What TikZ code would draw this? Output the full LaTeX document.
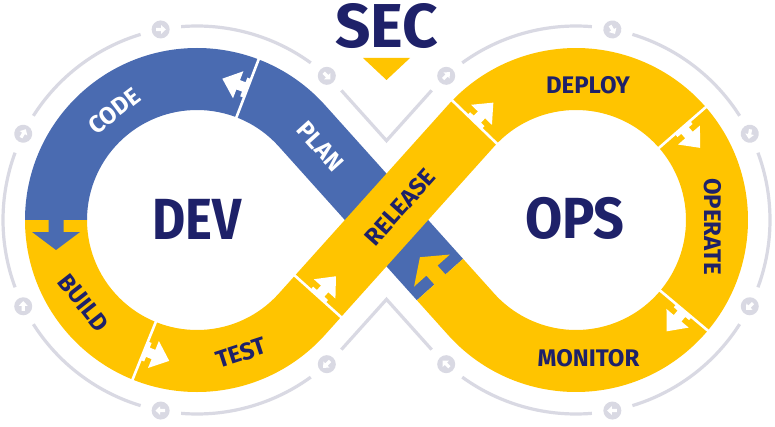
\documentclass[tikz,border=0pt]{standalone}
\usepackage{fontspec}
\setmainfont{Fira Sans}
\usepackage{graphicx}
\usetikzlibrary{calc}
\definecolor{dblue}{HTML}{4A6BB1}
\definecolor{dyel}{HTML}{FFC400}
\definecolor{navy}{HTML}{1E2169}
\definecolor{ringc}{HTML}{D9D9E3}
\begin{document}
\begin{tikzpicture}[x=1pt,y=1pt,
  lbl/.style={font=\fontsize{24}{24}\selectfont\bfseries, text=navy, inner sep=0pt},
  wlbl/.style={lbl, text=white},
  big/.style={font=\fontsize{58}{58}\selectfont\bfseries, text=navy, inner sep=0pt},
  divider/.style={white, line width=2.6pt},
  ringline/.style={ringc, line width=3.2pt},
  notcharrow/.pic={\fill (0,-10) -- (4,-10) -- (4,-5) -- (10,-5) -- (10,-14.5) -- (27,0) -- (10,14.5) -- (10,5) -- (4,5) -- (4,10) -- (0,10) -- cycle;},
  bigarrow/.pic={\fill (-1,-7.5) -- (12,-7.5) -- (12,-24) -- (30,0) -- (12,24) -- (12,7.5) -- (-1,7.5) -- cycle;},
  ringicon/.pic={\fill[ringc] (0,0) circle (9);
    \fill[white] (-4.5,-1.6) -- (0.5,-1.6) -- (0.5,-4.4) -- (5.2,0) -- (0.5,4.4) -- (0.5,1.6) -- (-4.5,1.6) -- cycle;},
]
\useasboundingbox (0,0) rectangle (775,426);
\fill[white] (0,0) rectangle (775,426);
\coordinate (C1) at (197,206);
\coordinate (C2) at (576,206);
\coordinate (M) at (386.5,206);

% ---- outer grey ring ----
\foreach \a/\b in {54.1/94.7, 106.9/147.5, 159.7/200.3, 212.5/253.1, 265.3/305.9}{
  \draw[ringline] ($(C1)+(\a:194)$) arc[start angle=\a, end angle=\b, radius=194];
}
\foreach \a/\b in {85.3/125.9, 32.5/73.1, -20.3/20.3, -73.1/-32.5, -125.9/-85.3}{
  \draw[ringline] ($(C2)+(\a:194)$) arc[start angle=\a, end angle=\b, radius=194];
}
\coordinate (vt1) at (341.35,335.61);
\coordinate (vt2) at (386.5,285.33);
\coordinate (vt3) at (431.65,335.61);
\coordinate (vb1) at (341.35,76.39);
\coordinate (vb2) at (386.5,126.67);
\coordinate (vb3) at (431.65,76.39);
\draw[ringline] (vt1) -- (vt2) -- (vt3);
\draw[ringline] (vb1) -- (vb2) -- (vb3);
\foreach \a/\d in {48/-45, 100.8/0, 153.6/60, 206.4/90, 259.2/180, 312/225}{
  \pic[rotate=\d] at ($(C1)+(\a:194)$) {ringicon};
}
\foreach \a/\d in {132/45, 79.2/-60, 26.4/-100, -26.4/-135, -79.2/180, -132/135}{
  \pic[rotate=\d] at ($(C2)+(\a:194)$) {ringicon};
}

% ---- blue band (CODE, PLAN) ----
\fill[dblue] (25,206) arc[start angle=180, end angle=41.92, radius=172]
  -- (463.02,167.18) -- (416.88,125.76) -- (278.85,279.49)
  arc[start angle=41.92, end angle=180, radius=110] -- cycle;
% ---- yellow band ----
\fill[dyel] (25,206) arc[start angle=180, end angle=318.08, radius=172]
  -- (494.15,279.49) arc[start angle=138.08, end angle=-138.08, radius=110]
  -- (463.02,167.18) -- (416.88,125.76) -- (448.02,91.09)
  arc[start angle=-138.08, end angle=138.08, radius=172]
  -- (278.85,132.51) arc[start angle=318.08, end angle=180, radius=110] -- cycle;

% ---- coloured arrows ----
\pic[dblue, rotate=-90] at (56,206) {bigarrow};
\pic[dyel, rotate=131.92] at (439.95,146.47) {bigarrow};

% ---- dividers ----
\draw[divider] ($(C1)+(69:108)$) -- ($(C1)+(69:174)$);
\draw[divider] ($(C1)+(248:108)$) -- ($(C1)+(248:174)$);
\draw[divider] (293.39,151.70) -- (342.51,107.60);
\draw[divider] ($(C2)+(136:108)$) -- ($(C2)+(136:174)$);
\draw[divider] ($(C2)+(41:108)$) -- ($(C2)+(41:174)$);
\draw[divider] ($(C2)+(-40:108)$) -- ($(C2)+(-40:174)$);

% ---- white arrows ----
\pic[white, rotate=159] at ($(C1)+(69:141)$) {notcharrow};
\pic[white, rotate=338] at ($(C1)+(248:141)$) {notcharrow};
\pic[white, rotate=48.08] at (317.95,129.65) {notcharrow};
\pic[white, rotate=46] at ($(C2)+(136:141)$) {notcharrow};
\pic[white, rotate=-49] at ($(C2)+(41:141)$) {notcharrow};
\pic[white, rotate=-130] at ($(C2)+(-40:141)$) {notcharrow};

% ---- SEC ----
\node[big, font=\fontsize{62}{62}\selectfont\bfseries] (sec) at (386.5,399.5) {SEC};
\fill[dyel] (363,368) -- (410,368) -- (386.5,346) -- cycle;

% ---- big labels ----
\node[big] (dev) at (197,207) {\scalebox{0.88}[1]{DEV}};
\node[big] (ops) at (575,208) {\scalebox{0.93}[1]{OPS}};

% ---- stage labels ----
\node[wlbl, rotate=37.2] (code) at ($(C1)+(127.2:137)$) {CODE};
\node[wlbl, rotate=-48.08] (plan) at (320.4,279.7) {PLAN};
\node[lbl, rotate=-52] (build) at (83.5,123) {BUILD};
\node[lbl, rotate=18] (test) at (241,73) {TEST};
\node[lbl, rotate=48.08] (release) at (400,219) {RELEASE};
\node[lbl] (deploy) at (588,341) {DEPLOY};
\node[lbl, rotate=-90] (operate) at (712.5,199.5) {OPERATE};
\node[lbl] (monitor) at (588.5,67.5) {MONITOR};
\end{tikzpicture}
\end{document}
